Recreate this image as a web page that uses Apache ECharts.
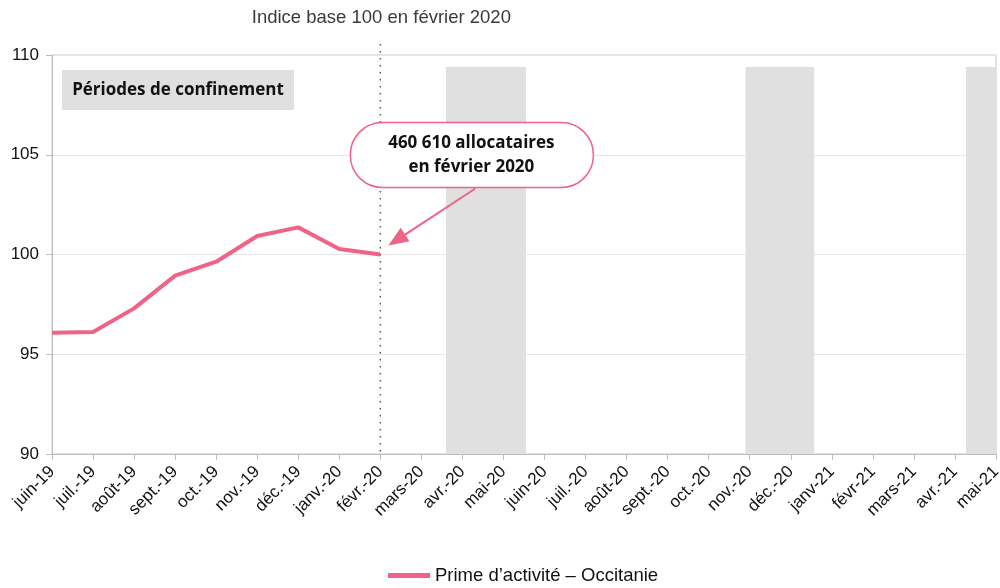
<!DOCTYPE html>
<html><head><meta charset="utf-8">
<script src="https://cdn.jsdelivr.net/npm/echarts@6/dist/echarts.min.js"></script>
<style>html,body{margin:0;padding:0;background:#fff}#c{width:1000px;height:588px}</style>
</head><body><div id="c"></div>
<script>
var categories = ['juin-19','juil.-19','août-19','sept.-19','oct.-19','nov.-19','déc.-19','janv.-20','févr.-20','mars-20','avr.-20','mai-20','juin-20','juil.-20','août-20','sept.-20','oct.-20','nov.-20','déc.-20','janv-21','févr-21','mars-21','avr.-21','mai-21'];
var primeActivite = [96.08, 96.12, 97.30, 98.94, 99.64, 100.93, 101.36, 100.28, 100.0];
var confinements = [[9.6, 11.55], [16.9, 18.57], [22.27, 23]];
var yTicks = {min: 90, max: 110, interval: 5};
var shadeTop = 109.4;
var seriesName = 'Prime d\u2019activité \u2013 Occitanie';
var annotationText = '460 610 allocataires\nen février 2020';
var refIndex = 8;

var pink = '#ee6386';
var chart = echarts.init(document.getElementById('c'));
var option = {
  animation: false,
  grid: {left: 52, right: 4, top: 55, bottom: 134, show: true, borderColor: '#c8c8c8', borderWidth: 1, outerBoundsMode: 'none', containLabel: false},
  legend: {
    top: 561, left: 383, itemWidth: 42, itemHeight: 5, itemGap: 6,
    icon: 'rect',
    textStyle: {fontFamily: 'Liberation Sans', fontSize: 18.5, color: '#111'},
    data: [seriesName]
  },
  xAxis: [{
    type: 'category', data: categories, boundaryGap: false,
    axisLine: {lineStyle: {color: '#bdbdbd'}},
    axisTick: {show: true, length: 6, lineStyle: {color: '#bdbdbd'}},
    axisLabel: {rotate: 45, interval: 0, fontFamily: 'Liberation Sans', fontSize: 17, color: '#111', margin: 15, hideOverlap: false},
    splitLine: {show: false}
  }, {
    type: 'value', min: 0, max: categories.length - 1, show: false
  }],
  yAxis: {
    type: 'value', min: yTicks.min, max: yTicks.max, interval: yTicks.interval,
    axisLine: {show: true, lineStyle: {color: '#bdbdbd'}},
    axisTick: {show: true, inside: false, length: 6, lineStyle: {color: '#bdbdbd'}},
    axisLabel: {fontFamily: 'Liberation Sans', fontSize: 17, color: '#111', margin: 13},
    splitLine: {lineStyle: {color: '#e6e6e6'}}
  },
  series: [{
    type: 'line', xAxisIndex: 1, data: [], silent: true, z: 1,
    markArea: {
      silent: true,
      itemStyle: {color: '#e0e0e0'},
      data: confinements.map(function (p) {
        return [{xAxis: p[0], yAxis: yTicks.min}, {xAxis: p[1], yAxis: shadeTop}];
      })
    }
  }, {
    name: seriesName, type: 'line', data: primeActivite, z: 5,
    symbol: 'none', lineStyle: {color: pink, width: 4}, itemStyle: {color: pink}
  }]
};
chart.setOption(option);

var P = chart.convertToPixel({xAxisIndex: 0, yAxisIndex: 0}, [categories[refIndex], primeActivite[refIndex]]);
var yBottom = chart.convertToPixel({yAxisIndex: 0}, yTicks.min);
var yTop = chart.convertToPixel({yAxisIndex: 0}, yTicks.max);
var gridLeft = chart.convertToPixel({xAxisIndex: 0}, categories[0]);

var tip = [P[0] + 8, P[1] - 9];
var start = [P[0] + 95, P[1] - 66];
var dx = start[0] - tip[0], dy = start[1] - tip[1];
var len = Math.sqrt(dx * dx + dy * dy);
var ux = dx / len, uy = dy / len;
var headLen = 20, headW = 8;
var base = [tip[0] + ux * headLen, tip[1] + uy * headLen];
var px = -uy, py = ux;

chart.setOption({
  graphic: [
    {type: 'line', z: 3, shape: {x1: P[0], y1: yTop - 11, x2: P[0], y2: yBottom},
      style: {stroke: '#555', lineWidth: 1.5, lineDash: [1.5, 5.5]}},
    {type: 'text', x: P[0] + 1, y: 8, style: {text: 'Indice base 100 en février 2020', fontFamily: 'Liberation Sans', fontSize: 18.5, fill: '#3a3a3a', textAlign: 'center'}},
    {type: 'rect', x: gridLeft + 10, y: yTop + 15, shape: {width: 232, height: 40}, style: {fill: '#e0e0e0'}},
    {type: 'text', x: gridLeft + 126, y: yTop + 35, style: {text: 'Périodes de confinement', fontFamily: 'Open Sans', fontWeight: 'bold', fontSize: 17, fill: '#111', textAlign: 'center', textVerticalAlign: 'middle'}},
    {type: 'line', z: 10, shape: {x1: start[0], y1: start[1], x2: base[0], y2: base[1]}, style: {stroke: pink, lineWidth: 2}},
    {type: 'polygon', z: 10, shape: {points: [tip, [base[0] + px * headW, base[1] + py * headW], [base[0] - px * headW, base[1] - py * headW]]}, style: {fill: pink}},
    {type: 'rect', z: 11, x: P[0] - 30, y: P[1] - 132, shape: {width: 243, height: 65, r: 32}, style: {fill: '#fff', stroke: pink, lineWidth: 1.5}},
    {type: 'text', z: 12, x: P[0] + 91, y: P[1] - 99, style: {text: annotationText, fontFamily: 'Open Sans', fontWeight: 'bold', fontSize: 17, lineHeight: 24, fill: '#111', textAlign: 'center', textVerticalAlign: 'middle'}}
  ]
});
</script></body></html>
